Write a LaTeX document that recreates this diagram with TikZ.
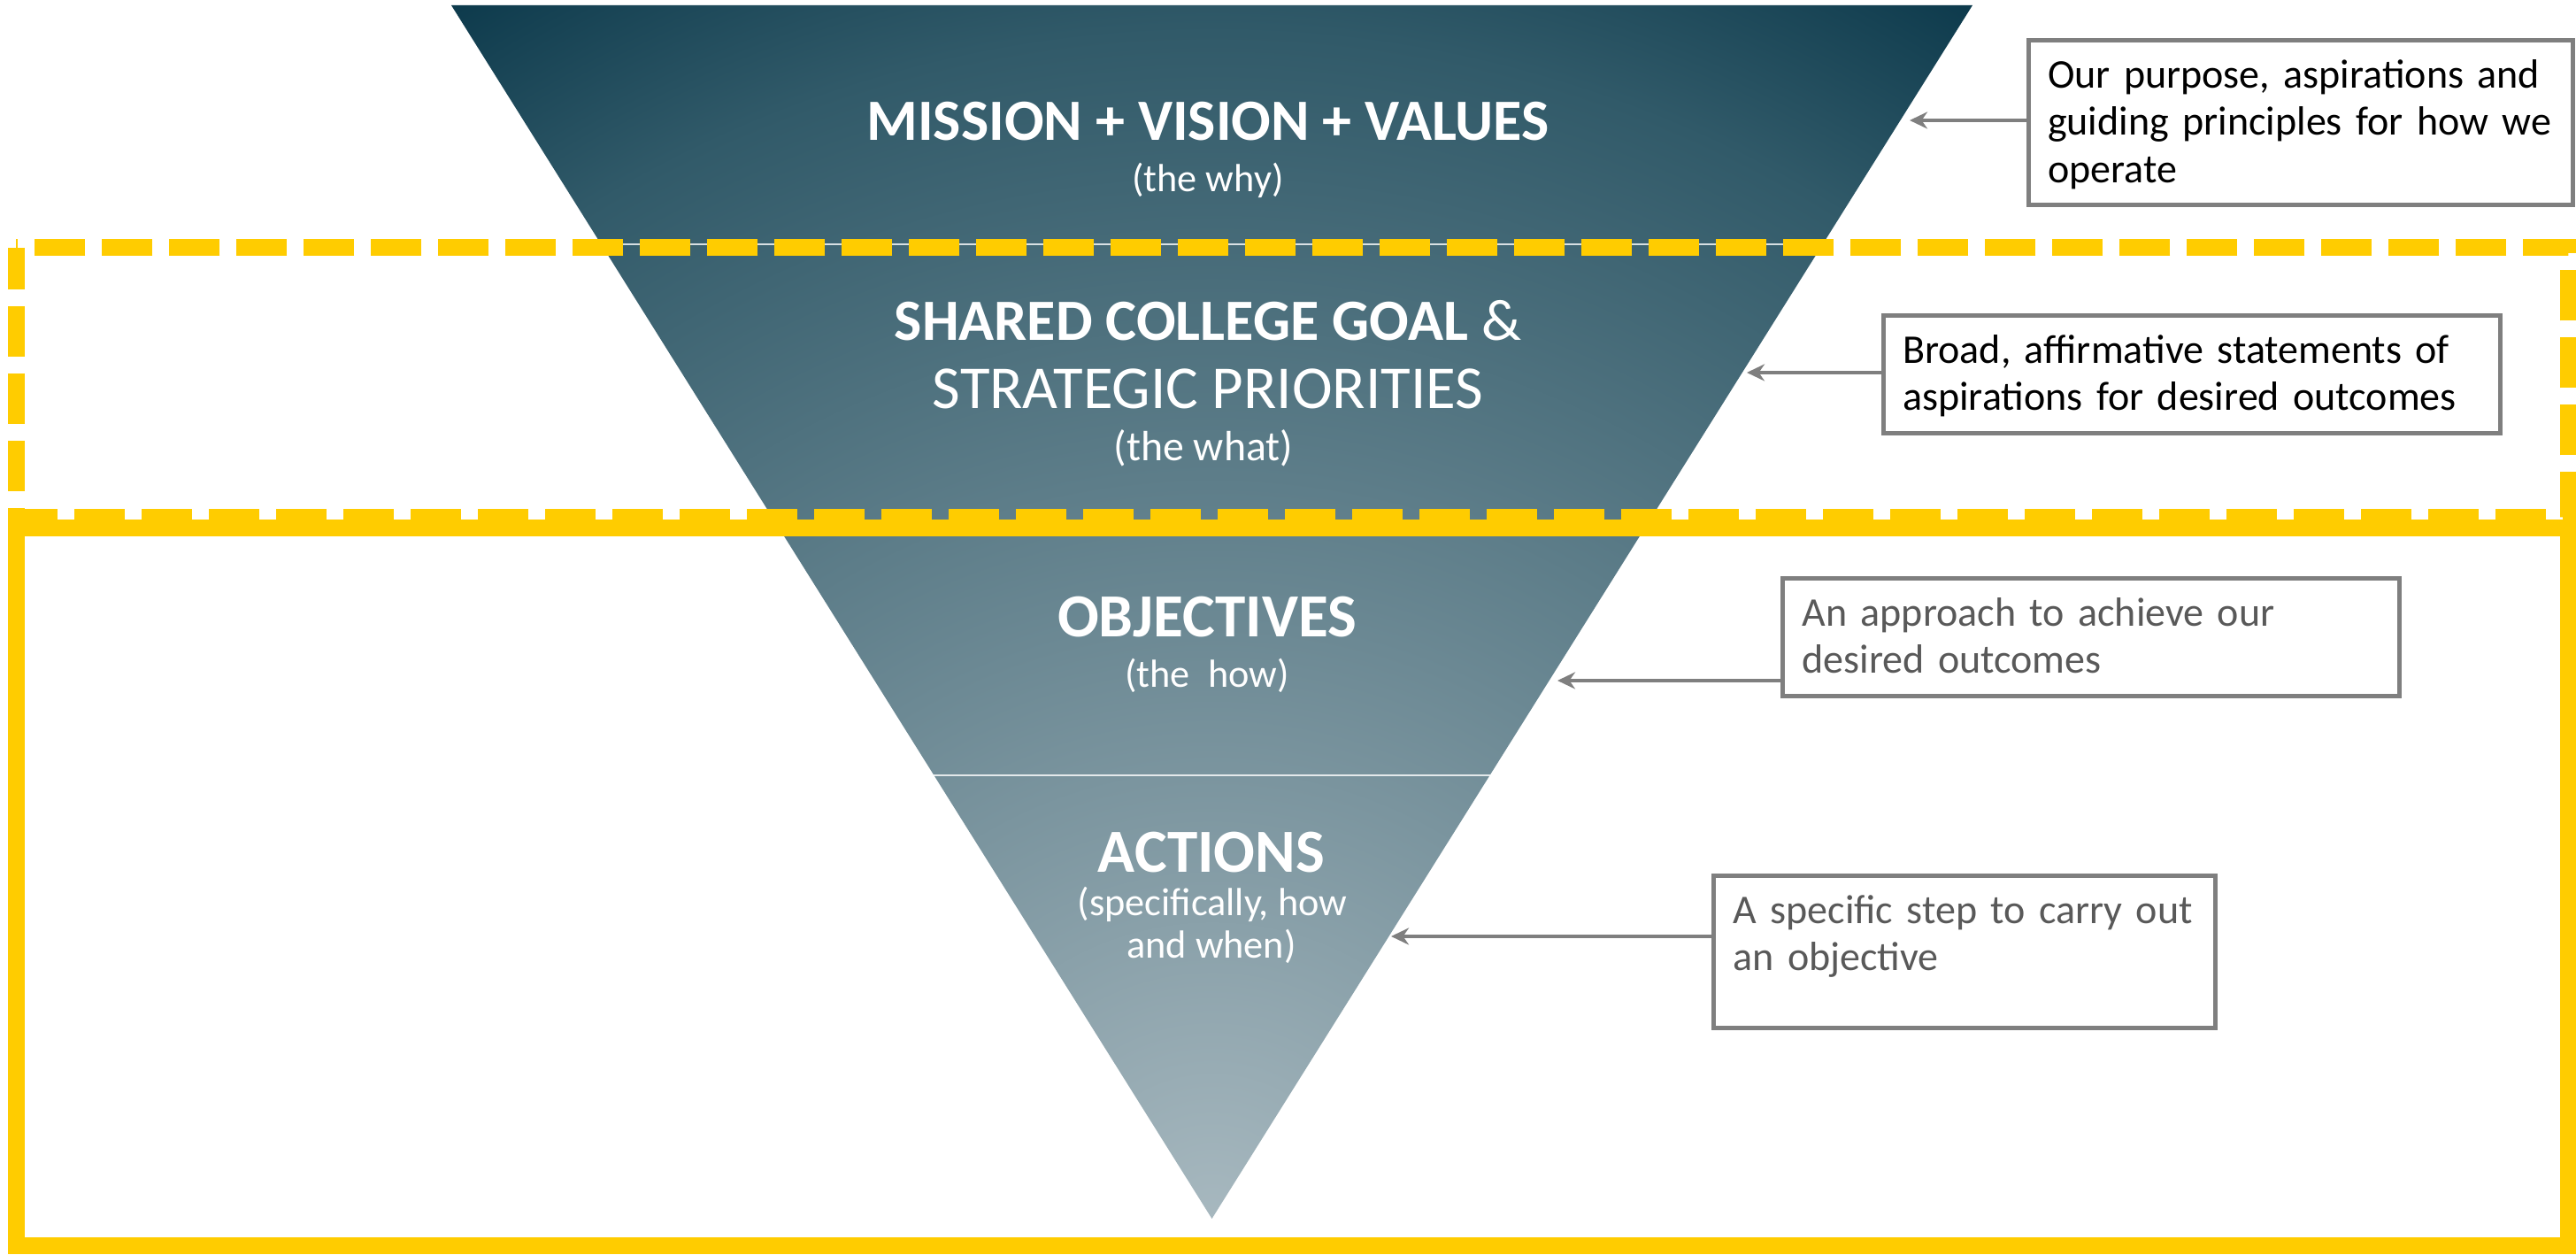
\documentclass[tikz,border=0pt]{standalone}
\usepackage{fontspec}
\setmainfont{Carlito}
\usepackage{tikz}
\usetikzlibrary{arrows.meta}
\usetikzlibrary{calc}
\definecolor{pyrlight}{HTML}{A7B8BF}
\definecolor{pyrmid}{HTML}{315A69}
\definecolor{pyrdark}{HTML}{0D3A4C}
\definecolor{gold}{HTML}{FFCC00}
\definecolor{linegray}{HTML}{7F7F7F}
\definecolor{textgray}{HTML}{595959}
\pgfdeclareradialshading{pyramidfade}{\pgfpoint{0bp}{0bp}}{color(0bp)=(pyrlight); color(16.75bp)=(pyrmid); color(20.25bp)=(pyrdark); color(50bp)=(pyrdark)}

\begin{document}
\begin{tikzpicture}[
	headtext/.style={text=white,anchor=base,inner sep=0pt,font=\bfseries\fontsize{18.8pt}{22pt}\selectfont},
	headbig/.style={headtext,font=\bfseries\fontsize{19.7pt}{22pt}\selectfont},
	headlight/.style={text=white,anchor=base,inner sep=0pt,font=\fontsize{19.6pt}{22pt}\selectfont},
	subtext/.style={text=white,anchor=base,inner sep=0pt,font=\fontsize{12.6pt}{14pt}\selectfont},
	infobox/.style={draw=linegray,line width=0.05cm,anchor=north west,align=left,inner xsep=0.22cm,inner ysep=0.19cm,text height=0.35cm,font=\fontsize{13.1pt}{15.2pt}\selectfont},
	pointer/.style={draw=linegray,line width=0.045cm,-{Stealth[length=0.2cm,width=0.19cm]}},
	divline/.style={draw=white,line width=0.6pt,opacity=0.8},
	goalbox/.style={draw=gold,line width=0.19cm,dash pattern=on 0.57cm off 0.19cm,dash phase=0.1cm},
	workbox/.style={draw=gold,line width=0.19cm}]
	
	\path[use as bounding box,fill=white] (0,0) rectangle (29.11,14.18);
	
	% pyramid
	\coordinate (tl) at (5.10,14.12);
	\coordinate (tr) at (22.29,14.12);
	\coordinate (apex) at (13.695,0.41);
	\path[path picture={\shade[shading=pyramidfade] (apex) circle (20);}] (tl)--(tr)--(apex)--cycle;
	\draw[divline] ($(tl)!0.197!(apex)$)--($(tr)!0.197!(apex)$);
	\draw[divline] ($(tl)!0.6346!(apex)$)--($(tr)!0.6346!(apex)$);
	
	% yellow frames
	\draw[goalbox] (0.185,11.38) rectangle (29.02,8.335);
	\draw[workbox] (0.185,8.215) rectangle (29.02,0.105);
	
	% levels
	\node[headtext] (mission) at (13.65,12.59) {MISSION + VISION + VALUES};
	\node[subtext] (why) at (13.65,12.01) {(the why)};
	\node[headtext] (shared) at (13.65,10.33) {SHARED COLLEGE GOAL {\mdseries\&}};
	\node[headlight] (strategic) at (13.65,9.56) {STRATEGIC PRIORITIES};
	\node[subtext,font=\fontsize{13.6pt}{15pt}\selectfont] (what) at (13.60,8.97) {(the what)};
	\node[headbig] (objectives) at (13.64,6.98) {OBJECTIVES};
	\node[subtext] (how) at (13.64,6.41) {(the\ \ how)};
	\node[headbig] (actions) at (13.69,4.32) {ACTIONS};
	\node[subtext] (when1) at (13.70,3.83) {(specifically, how};
	\node[subtext] (when2) at (13.69,3.35) {and when)};
	
	% notes
	\node[infobox,text width=5.715cm,text depth=1.135cm] (box1) at (22.895,13.75)
		{Our purpose, aspirations and\\guiding principles for how we\\operate};
	\node[infobox,text width=6.53cm,text depth=0.604cm] (box2) at (21.257,10.644)
		{Broad, affirmative statements of\\aspirations for desired outcomes};
	\node[infobox,text width=6.53cm,text depth=0.60cm,text=textgray] (box3) at (20.12,7.67)
		{An approach to achieve our\\desired outcomes};
	\node[infobox,text width=5.23cm,text depth=0.99cm,text=textgray] (box4) at (19.34,4.31)
		{A specific step to carry out\\an objective};
	
	\coordinate (tip1) at (21.58,12.82);
	\coordinate (tip2) at (19.74,9.97);
	\coordinate (tip3) at (17.60,6.49);
	\coordinate (tip4) at (15.72,3.60);
	\draw[pointer] (box1.west|-tip1)--(tip1);
	\draw[pointer] (box2.west|-tip2)--(tip2);
	\draw[pointer] (box3.west|-tip3)--(tip3);
	\draw[pointer] (box4.west|-tip4)--(tip4);
\end{tikzpicture}
\end{document}
